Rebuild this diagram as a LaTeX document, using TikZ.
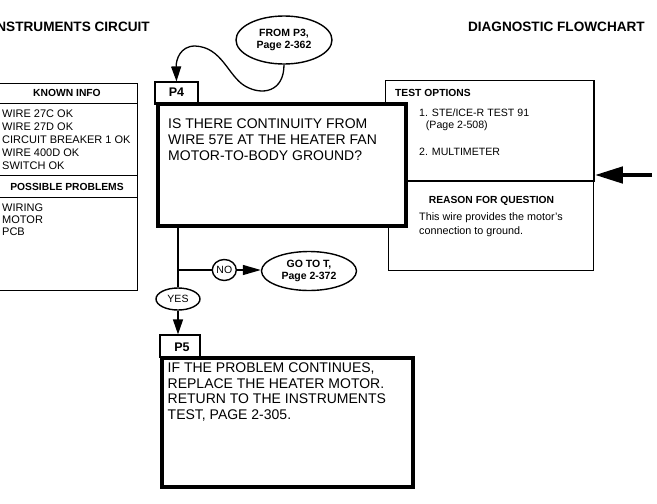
\documentclass[tikz,border=0pt]{standalone}
\usepackage{fontspec}
\setmainfont{Liberation Sans}
\usetikzlibrary{arrows.meta,shapes.geometric}
\begin{document}
\begin{tikzpicture}[x=1pt,y=-1pt,
  txt/.style={inner sep=0pt, font=\fontsize{11}{12.9}\selectfont, align=left},
  stxt/.style={inner sep=0pt, font=\fontsize{10.6}{11.6}\selectfont, align=left},
  btxt/.style={inner sep=0pt, font=\bfseries\fontsize{10.3}{12}\selectfont},
  bigtxt/.style={inner sep=0pt, font=\fontsize{14}{16.2}\selectfont, align=left},
  ttl/.style={inner sep=0pt, font=\bfseries\fontsize{13.6}{15}\selectfont},
  tabtxt/.style={inner sep=0pt, font=\bfseries\fontsize{12.5}{14}\selectfont},
  thinbox/.style={draw, line width=0.9pt, inner sep=0pt},
  medbox/.style={draw, line width=1.6pt, inner sep=0pt},
  thickbox/.style={draw, line width=4pt, fill=white, inner sep=0pt},
  tabbox/.style={draw, line width=1.2pt, fill=white, inner sep=0pt},
  oval/.style={ellipse, draw, line width=1.4pt, inner sep=0pt, align=center},
  conn/.style={line width=1.3pt},
  tri/.style={conn, -{Triangle[length=15pt,width=10pt]}},
]
\useasboundingbox (0,0) rectangle (657,504);

% titles
\node[ttl, anchor=base east] (t1) at (150,31.5) {INSTRUMENTS CIRCUIT};
\node[ttl, anchor=base east] (t2) at (645,31.5) {DIAGNOSTIC FLOWCHART};

% known info box
\node[thinbox, minimum width=138pt, minimum height=207pt] (known) at (68,186.5) {};
\draw[line width=0.9pt] (-1,103) -- (137,103);
\draw[line width=0.9pt] (-1,175) -- (137,175);
\draw[line width=0.9pt] (-1,197) -- (137,197);
\node[btxt, anchor=base] (kh) at (67,96.5) {KNOWN INFO};
% base anchor = baseline of last line
\node[txt, anchor=base west] (kl) at (2,169.1) {WIRE 27C OK\\WIRE 27D OK\\CIRCUIT BREAKER 1 OK\\WIRE 400D OK\\SWITCH OK};
\node[btxt, anchor=base] (ph) at (67,190.5) {POSSIBLE PROBLEMS};
\node[txt, anchor=base west, font=\fontsize{11}{12.1}\selectfont] (pl) at (2,235.7) {WIRING\\MOTOR\\PCB};

% test options / reason boxes
\node[thinbox, minimum width=205pt, minimum height=89pt] (reason) at (490.5,225.5) {};
\node[medbox, minimum width=208.5pt, minimum height=100.5pt] (test) at (489.75,130.75) {};
\node[btxt, anchor=base west] (th) at (395,96.7) {TEST OPTIONS};
\node[stxt, anchor=base west] (t1a) at (419,116.7) {1. STE/ICE-R TEST 91};
\node[stxt, anchor=base west] (t1b) at (425.7,128.3) {(Page 2-508)};
\node[stxt, anchor=base west] (t2a) at (419,155) {2. MULTIMETER};
\node[btxt, anchor=base] (rh) at (491.5,203) {REASON FOR QUESTION};
\node[stxt, anchor=base west, font=\fontsize{10.8}{13.5}\selectfont] (rt) at (419,234) {This wire provides the motor's\\connection to ground.};

% P4
\node[tabbox, minimum width=43pt, minimum height=22pt] (p4tab) at (176.5,93) {};
\node[tabtxt, anchor=base] (p4lbl) at (176.5,96.7) {P4};
\node[thickbox, minimum width=248.5pt, minimum height=122pt] (p4) at (281.75,165) {};
\node[bigtxt, anchor=base west] (p4t) at (168,160.9) {IS THERE CONTINUITY FROM\\WIRE 57E AT THE HEATER FAN\\MOTOR-TO-BODY GROUND?};

% P5
\node[tabbox, minimum width=40pt, minimum height=22pt] (p5tab) at (180,346) {};
\node[tabtxt, anchor=base] (p5lbl) at (182,351.7) {P5};
\node[thickbox, minimum width=251pt, minimum height=129.5pt] (p5) at (287.5,422.25) {};
\node[bigtxt, anchor=base west, font=\fontsize{14}{15.6}\selectfont] (p5t) at (167.5,419.5) {IF THE PROBLEM CONTINUES,\\REPLACE THE HEATER MOTOR.\\RETURN TO THE INSTRUMENTS\\TEST, PAGE 2-305.};

% ovals
\node[oval, minimum width=96pt, minimum height=48pt, font=\bfseries\fontsize{10.5}{12.7}\selectfont] (from) at (284,40) {FROM P3,\\Page 2-362};
\node[oval, minimum width=95pt, minimum height=39pt, font=\bfseries\fontsize{10.5}{12.4}\selectfont] (goto) at (309,271) {GO TO T,\\Page 2-372};
\node[oval, minimum width=44pt, minimum height=22pt, font=\fontsize{10.5}{12}\selectfont] (yes) at (178,299) {YES};
\node[oval, minimum width=24pt, minimum height=21pt, font=\fontsize{10.5}{12}\selectfont] (no) at (224.3,270) {NO};

% connectors
\draw[tri] (from.south) .. controls (284,92) and (262,96) .. (245,86)
  .. controls (228,76) and (222,47) .. (195,46)
  .. controls (180,46) and (176,60) .. (p4tab.north);
\draw[conn] (yes.north |- p4.south) -- (yes.north);
\draw[conn] (yes.north |- no.west) -- (no.west);
\draw[tri, -{Triangle[length=18pt,width=10pt]}] (no.east) -- (goto.west |- no.east);
\draw[tri] (yes.south) -- (yes.south |- p5tab.north);
\coordinate (src) at (652,175);
\draw[line width=4.5pt, -{Triangle[length=28pt,width=16pt]}] (src) -- (test.east |- src);
\end{tikzpicture}
\end{document}
